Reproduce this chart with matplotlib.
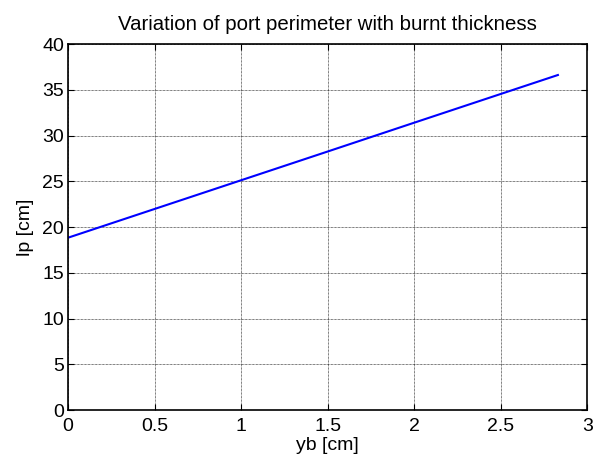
import matplotlib
matplotlib.use("Agg")
import matplotlib.pyplot as plt

plt.rcParams['font.family'] = ['Liberation Sans', 'DejaVu Sans']

yb = [0.0, 0.5, 1.0, 1.5, 2.0, 2.5, 2.83]
lp = [18.85, 21.99, 25.13, 28.27, 31.42, 34.56, 36.63]
xticks = [0, 0.5, 1, 1.5, 2, 2.5, 3]
yticks = [0, 5, 10, 15, 20, 25, 30, 35, 40]

fig = plt.figure(figsize=(6.03, 4.65), dpi=100)
ax = fig.add_axes([0.113, 0.118, 0.861, 0.787])
ax.plot(yb, lp, color='#0000ff', linewidth=1.5)
ax.set_xlim(0, 3)
ax.set_ylim(0, 40)
ax.set_xticks(xticks)
ax.set_xticklabels(['0', '0.5', '1', '1.5', '2', '2.5', '3'])
ax.set_yticks(yticks)
ax.grid(True, color='black', linestyle=(0, (1, 1)), linewidth=0.5)
ax.tick_params(direction='in', top=True, right=True, labelsize=14, length=4, width=0.8)
ax.tick_params(axis='x', pad=6)
ax.tick_params(axis='y', pad=3)
for s in ax.spines.values():
    s.set_linewidth(1.2)
ax.set_xlabel('yb [cm]', fontsize=14, labelpad=1)
ax.set_ylabel('lp [cm]', fontsize=14, labelpad=6)
ax.set_title('Variation of port perimeter with burnt thickness', fontsize=14.7, pad=10)
fig.savefig('out.png', dpi=100, facecolor='white')
